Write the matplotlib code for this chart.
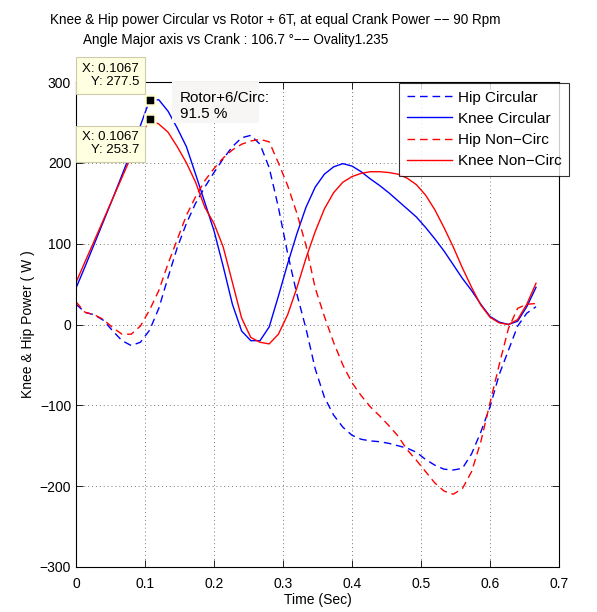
import numpy as np
import matplotlib
matplotlib.use('Agg')
import matplotlib.pyplot as plt
from matplotlib.patches import Rectangle

plt.rcParams['font.family'] = ['Liberation Sans', 'DejaVu Sans']

# time base: one crank revolution at 90 rpm, 51 samples
time_s = [0.0, 0.0133, 0.0267, 0.04, 0.0533, 0.0667, 0.08, 0.0933, 0.1067, 0.12,
          0.1333, 0.1467, 0.16, 0.1733, 0.1867, 0.2, 0.2133, 0.2267, 0.24, 0.2533,
          0.2667, 0.28, 0.2933, 0.3067, 0.32, 0.3333, 0.3467, 0.36, 0.3733, 0.3867,
          0.4, 0.4133, 0.4267, 0.44, 0.4533, 0.4667, 0.48, 0.4933, 0.5067, 0.52,
          0.5333, 0.5467, 0.56, 0.5733, 0.5867, 0.6, 0.6133, 0.6267, 0.64, 0.6533,
          0.6667]

hip_circ = [25, 15, 12, 5, -8, -20, -26, -22, -7, 20,
            58, 95, 125, 150, 170, 188, 205, 220, 231, 234,
            223, 194, 145, 88, 38, -5, -55, -90, -112, -127,
            -137, -142, -144, -145, -147, -150, -153, -158, -167, -174,
            -179, -180, -178, -160, -133, -102, -62, -32, -2, 14,
            22]

knee_circ = [45, 72, 100, 128, 156, 185, 214, 246, 277.5, 278,
             264, 243, 220, 186, 151, 116, 72, 25, -8, -20,
             -20, -3, 35, 75, 112, 145, 170, 186, 195, 199,
             196, 189, 180, 172, 163, 153, 143, 133, 120, 106,
             91, 74, 57, 42, 25, 10, 3, 0, 4, 22,
             46]

hip_noncirc = [28, 15, 12, 6, -4, -12, -12, -2, 18, 42,
               75, 105, 135, 158, 178, 193, 206, 216, 223, 227,
               229, 226, 200, 172, 138, 98, 45, 10, -22, -50,
               -72, -88, -102, -113, -125, -138, -155, -168, -182, -196,
               -206, -210, -203, -182, -145, -97, -50, -5, 20, 25,
               26]

knee_noncirc = [52, 78, 104, 130, 156, 182, 208, 232, 253.7, 248,
                238, 220, 200, 176, 145, 125, 96, 52, 8, -16,
                -22, -24, -12, 12, 45, 82, 115, 143, 163, 176,
                183, 187, 189, 189, 188, 186, 181, 173, 160, 142,
                120, 96, 70, 46, 24, 9, 2, 0, 6, 25,
                51]

series_labels = ['Hip Circular', 'Knee Circular', 'Hip Non\u2212Circ', 'Knee Non\u2212Circ']
tip_x = 0.1067
tip_y = [277.5, 253.7]
ratio_text = 'Rotor+6/Circ:\n91.5 %'

W, H = 597, 612
fig = plt.figure(figsize=(W / 100, H / 100), dpi=100)
ax = fig.add_axes([76/W, 1 - 567/H, 483/W, 485/H])

dash = (5.5, 3.5)
ax.plot(time_s, hip_circ, color='blue', lw=1.0, dashes=dash, label=series_labels[0])
ax.plot(time_s, knee_circ, color='blue', lw=1.0, label=series_labels[1])
ax.plot(time_s, hip_noncirc, color='red', lw=1.0, dashes=dash, label=series_labels[2])
ax.plot(time_s, knee_noncirc, color='red', lw=1.0, label=series_labels[3])

ax.set_xlim(0, 0.7)
ax.set_ylim(-300, 300)
ax.set_xticks(np.arange(0, 0.71, 0.1))
ax.set_xticklabels(['0', '0.1', '0.2', '0.3', '0.4', '0.5', '0.6', '0.7'])
ax.set_yticks(np.arange(-300, 301, 100))
ax.tick_params(direction='in', top=True, right=True, length=5, labelsize=10, width=0.6)
ax.tick_params(axis='x', pad=7)
ax.grid(True, linestyle=(0, (1, 3)), color='#777777', lw=0.7)
for s in ax.spines.values():
    s.set_linewidth(0.8)

ax.set_xlabel('Time (Sec)', fontsize=10, labelpad=1.5)
ax.set_ylabel('Knee & Hip Power ( W )', fontsize=10, labelpad=3)

fig.text(50/W, 1 - 20/H, 'Knee & Hip power Circular vs Rotor + 6T, at equal Crank Power \u2212\u2212 90 Rpm',
         fontsize=9.75, ha='left', va='center')
fig.text(83/W, 1 - 40/H, 'Angle Major axis vs Crank : 106.7 \u00b0\u2212\u2212 Ovality1.235',
         fontsize=9.75, ha='left', va='center')

leg = ax.legend(loc='upper left', bbox_to_anchor=(399/W, 1 - 83/H), bbox_transform=fig.transFigure,
                fontsize=11, frameon=True, fancybox=False, handlelength=3.0, borderpad=0.5,
                labelspacing=0.47, handletextpad=0.35, borderaxespad=0)
leg.get_frame().set_edgecolor('black')
leg.get_frame().set_linewidth(0.8)

# data tips
for yv, dy in zip(tip_y, [24.5, -24.5]):
    ax.plot([tip_x], [yv], marker='s', ms=7.6, mfc='black', mec='#FFFFD8', mew=1.8, zorder=6, clip_on=False)
    ax.annotate('X: %.4f\nY: %.1f' % (tip_x, yv), xy=(tip_x, yv), xytext=(-10.5, dy),
                textcoords='offset pixels', ha='right', va='center', fontsize=9.5,
                linespacing=1.1, zorder=7, annotation_clip=False,
                bbox=dict(boxstyle='square,pad=0.45', fc='#FFFFE1', ec='#CCCCAA', lw=0.8))

# ratio annotation: shaded box, text overflows it as in the source
fig.add_artist(Rectangle((172/W, 1 - 123/H), 87/W, 41/H, transform=fig.transFigure,
                         fc='#F8F5F5', ec='none', zorder=3))
fig.text(180/W, 1 - 106/H, ratio_text, fontsize=11, ha='left', va='center',
         linespacing=1.15, zorder=4)

fig.savefig('out.png', dpi=100)
